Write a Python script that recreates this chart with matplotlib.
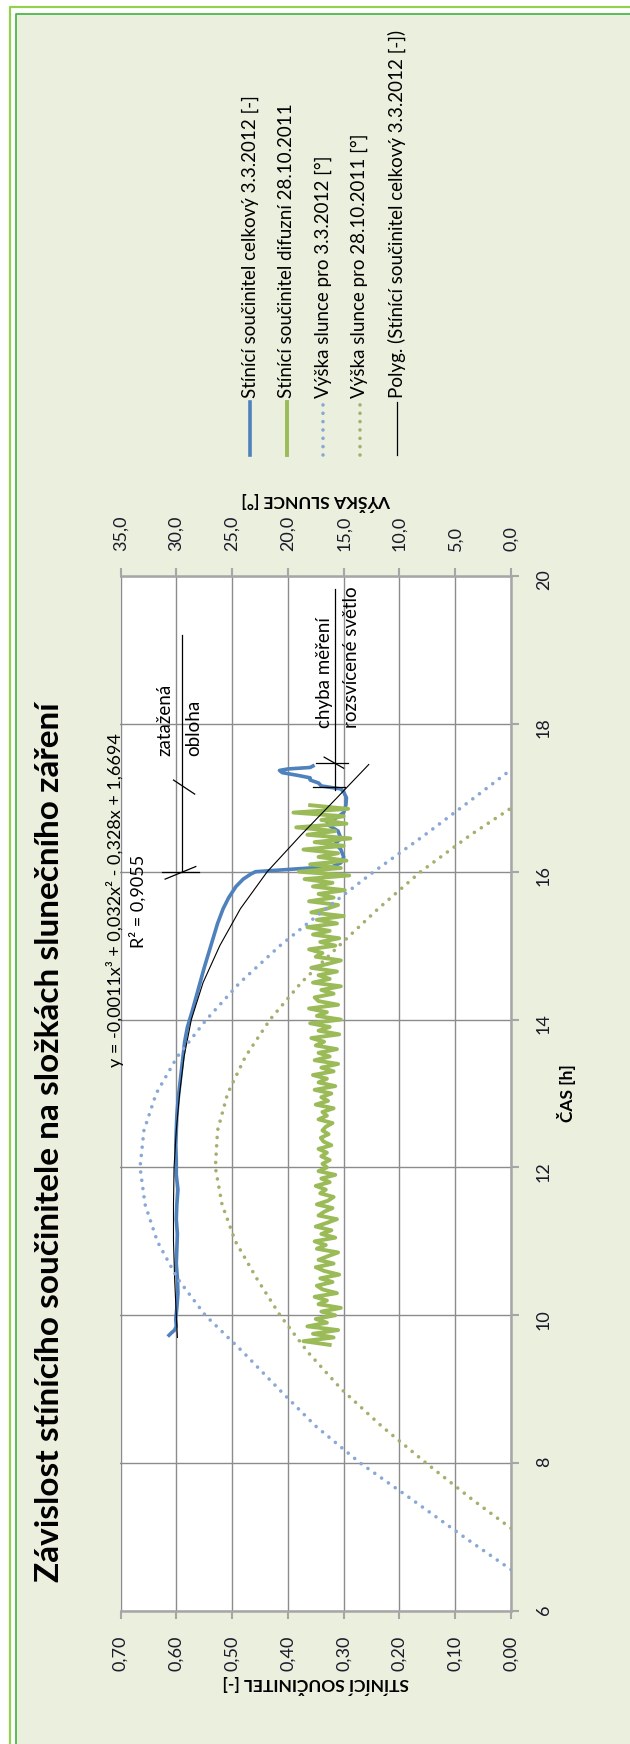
import numpy as np
import matplotlib.pyplot as plt
from matplotlib.lines import Line2D
from matplotlib.patches import Rectangle

plt.rcParams['font.family'] = ['Lato', 'DejaVu Sans']

# ---------------- data ----------------
# stínící součinitel celkový 3.3.2012 [-]
cas_celkovy = [9.73, 9.76, 9.80, 9.85, 9.95, 10.1, 10.3, 10.5, 10.7, 10.9, 11.1, 11.3,
               11.5, 11.7, 11.9, 12.1, 12.3, 12.5, 12.7, 12.9, 13.1, 13.3, 13.5, 13.7,
               13.9, 14.1, 14.4, 14.7, 14.9, 15.1, 15.3, 15.5, 15.65, 15.8, 15.9, 15.97,
               16.0, 16.04, 16.07, 16.12, 16.2, 16.3, 16.38, 16.45, 16.55, 16.62, 16.68,
               16.72, 16.8, 16.9, 17.0, 17.08, 17.12, 17.16, 17.2, 17.24, 17.27, 17.3,
               17.34, 17.37, 17.39, 17.41, 17.43]
stineni_celkovy = [0.613, 0.609, 0.603, 0.600, 0.601, 0.599, 0.597, 0.598, 0.600, 0.599, 0.598, 0.600,
                   0.599, 0.597, 0.600, 0.600, 0.601, 0.600, 0.599, 0.597, 0.594, 0.591, 0.588, 0.585,
                   0.580, 0.572, 0.561, 0.550, 0.542, 0.534, 0.526, 0.516, 0.506, 0.493, 0.480, 0.466,
                   0.458, 0.381, 0.320, 0.305, 0.300, 0.305, 0.315, 0.305, 0.310, 0.325, 0.330,
                   0.315, 0.300, 0.296, 0.295, 0.300, 0.305, 0.340, 0.345, 0.360, 0.360, 0.380,
                   0.410, 0.415, 0.400, 0.360, 0.355]

# stínící součinitel difuzní 28.10.2011 [-] (měřeno po 3 minutách, 9:36 - 16:54)
stineni_difuzni = [
    0.325, 0.372, 0.318, 0.355, 0.310, 0.365, 0.330, 0.350, 0.315, 0.340,
    0.305, 0.345, 0.330, 0.352, 0.312, 0.338, 0.348, 0.320, 0.342, 0.308,
    0.335, 0.350, 0.318, 0.345, 0.328, 0.310, 0.348, 0.332, 0.352, 0.315,
    0.340, 0.322, 0.350, 0.330, 0.312, 0.345, 0.335, 0.320, 0.348, 0.328,
    0.318, 0.342, 0.332, 0.350, 0.325, 0.340, 0.315, 0.345, 0.330, 0.338,
    0.325, 0.340, 0.330, 0.345, 0.322, 0.336, 0.341, 0.327, 0.338, 0.332,
    0.320, 0.345, 0.330, 0.338, 0.318, 0.350, 0.328, 0.340, 0.322, 0.352,
    0.315, 0.345, 0.330, 0.355, 0.318, 0.340, 0.310, 0.352, 0.325, 0.345,
    0.312, 0.350, 0.335, 0.358, 0.308, 0.345, 0.325, 0.360, 0.305, 0.348,
    0.330, 0.362, 0.310, 0.345, 0.352, 0.318, 0.340, 0.305, 0.355, 0.325,
    0.345, 0.312, 0.358, 0.330, 0.305, 0.350, 0.338, 0.362, 0.315, 0.342,
    0.308, 0.355, 0.325, 0.365, 0.312, 0.348, 0.300, 0.358, 0.330, 0.310,
    0.362, 0.318, 0.345, 0.298, 0.355, 0.320, 0.370, 0.290, 0.380, 0.305,
    0.360, 0.295, 0.345, 0.310, 0.372, 0.300, 0.352, 0.288, 0.365, 0.315,
    0.385, 0.295, 0.340, 0.300, 0.390, 0.292, 0.360]
cas_difuzni = np.linspace(9.60, 16.90, len(stineni_difuzni))

# výška slunce [°]
cas_slunce_3_3 = [6.56, 7.0, 7.5, 8.0, 8.5, 9.0, 9.5, 10.0, 10.5, 11.0, 11.5, 12.0,
                  12.5, 13.0, 13.5, 14.0, 14.5, 15.0, 15.5, 16.0, 16.5, 17.0, 17.38]
vyska_3_3 = [0.0, 4.2, 8.8, 13.5, 17.5, 20.8, 24.0, 27.4, 29.9, 31.7, 32.8, 33.25,
             32.9, 31.8, 29.9, 27.3, 24.3, 20.7, 16.6, 12.3, 7.7, 3.3, 0.0]
cas_slunce_28_10 = [7.12, 7.5, 8.0, 8.5, 9.0, 9.5, 10.0, 10.5, 11.0, 11.5, 12.0,
                    12.5, 13.0, 13.5, 14.0, 14.5, 15.0, 15.5, 16.0, 16.5, 16.86]
vyska_28_10 = [0.0, 3.4, 7.6, 11.6, 15.2, 18.2, 20.7, 22.8, 24.7, 25.9, 26.5,
               26.3, 25.4, 23.8, 21.6, 18.8, 15.4, 11.9, 8.1, 3.6, 0.0]

# polynomický trend
cas_trend = [9.7, 10.0, 10.5, 11.0, 11.5, 12.0, 12.5, 13.0, 13.5, 14.0, 14.5,
             15.0, 15.5, 16.0, 16.5, 17.0, 17.45]
trend = [0.598, 0.600, 0.603, 0.605, 0.605, 0.604, 0.600, 0.594, 0.586, 0.573, 0.552,
         0.522, 0.485, 0.437, 0.376, 0.312, 0.255]

coef_ticks = [0.0, 0.1, 0.2, 0.3, 0.4, 0.5, 0.6, 0.7]
coef_labels = ['0,00', '0,10', '0,20', '0,30', '0,40', '0,50', '0,60', '0,70']
sun_ticks = [0, 5, 10, 15, 20, 25, 30, 35]
sun_labels = ['0,0', '5,0', '10,0', '15,0', '20,0', '25,0', '30,0', '35,0']
time_ticks = [6, 8, 10, 12, 14, 16, 18, 20]
time_labels = ['6', '8', '10', '12', '14', '16', '18', '20']

legend_labels = ['Stínící součinitel celkový 3.3.2012 [-]',
                 'Stínící součinitel difuzní 28.10.2011',
                 'Výška slunce pro 3.3.2012 [°]',
                 'Výška slunce pro 28.10.2011 [°]',
                 'Polyg. (Stínící součinitel celkový 3.3.2012 [-])']

# ---------------- styles ----------------
BLUE = '#4F81BD'
GREEN = '#9BBB59'
BLUE_DOT = '#8AA8D6'
GREEN_DOT = '#A4B06E'
GRID = '#8C8C8C'
AXIS = '#A6A6A6'
BG = '#EBEFDE'
DOTS = (0, (0.01, 2.3))

W, H = 630, 1744


def fx(x):
    return x / W


def fy(y):
    return 1 - y / H


fig = plt.figure(figsize=(W / 100, H / 100), dpi=100)
fig.patch.set_facecolor('white')

# pozadí grafu a zelený okraj (graf je vpravo a dole oříznutý)
fig.add_artist(Rectangle((fx(16), 0), 1 - fx(16), fy(14), transform=fig.transFigure,
                         facecolor=BG, edgecolor='none', zorder=0))
fig.add_artist(Line2D([fx(10), fx(10), 1], [0, fy(7), fy(7)], transform=fig.transFigure,
                      color='#92D050', lw=1.6))
fig.add_artist(Line2D([fx(16), fx(16), 1], [0, fy(14), fy(14)], transform=fig.transFigure,
                      color='#4CB84C', lw=1.3))

# oblast grafu: vodorovně součinitel (0,70 vlevo), svisle čas
left, right, top, bottom = 120.5, 511, 576, 1611
ax = fig.add_axes([fx(left), fy(bottom), (right - left) / W, (bottom - top) / H])
ax.set_facecolor('white')
ax.set_xlim(0.70, 0.0)
ax.set_ylim(6, 20)

ax.plot(stineni_celkovy, cas_celkovy, color=BLUE, lw=2.6, solid_joinstyle='round', zorder=3)
ax.plot(stineni_difuzni, cas_difuzni, color=GREEN, lw=2.8, solid_joinstyle='round', zorder=4)
ax.plot(trend, cas_trend, color='black', lw=0.8, zorder=5)

ax.set_xticks(coef_ticks)
ax.set_xticklabels(coef_labels)
ax.set_yticks(time_ticks)
ax.set_yticklabels(time_labels)
ax.yaxis.tick_right()
ax.grid(True, color=GRID, lw=1.0)
ax.set_axisbelow(True)
ax.tick_params(axis='x', direction='out', length=6, width=1.5, color=AXIS,
               labelrotation=90, labelsize=13, pad=12, labelcolor='#1a1a2a')
ax.tick_params(axis='y', direction='out', length=6, width=1.5, color=AXIS,
               labelrotation=90, labelsize=13, pad=12, labelcolor='#1a1a2a')
for s in ['top', 'left']:
    ax.spines[s].set_visible(False)
for s in ['bottom', 'right']:
    ax.spines[s].set_color(AXIS)
    ax.spines[s].set_linewidth(1.8)

# vedlejší osa: výška slunce
ax2 = ax.twiny()
ax2.set_xlim(35, 0)
ax2.plot(vyska_3_3, cas_slunce_3_3, color=BLUE_DOT, lw=2.6, ls=DOTS, dash_capstyle='round')
ax2.plot(vyska_28_10, cas_slunce_28_10, color=GREEN_DOT, lw=2.6, ls=DOTS, dash_capstyle='round')
ax2.set_xticks(sun_ticks)
ax2.set_xticklabels(sun_labels)
ax2.tick_params(axis='x', direction='out', length=6, width=1.5, color=AXIS,
                labelrotation=90, labelsize=13, pad=12, labelcolor='#1a1a2a')
for s in ['bottom', 'left', 'right']:
    ax2.spines[s].set_visible(False)
ax2.spines['top'].set_color(AXIS)
ax2.spines['top'].set_linewidth(1.8)

# popisky v grafu
ann = dict(color='black', lw=0.9, zorder=6, clip_on=False)
ax.plot([0.59, 0.59], [16.0, 19.2], **ann)
ax.plot([0.625, 0.560], [15.99, 15.99], **ann)
ax.plot([0.620, 0.565], [15.90, 16.07], **ann)
ax.plot([0.605, 0.567], [17.24, 17.05], **ann)
ax.text(0.620, 17.57, 'zatažená', rotation=90, ha='center', va='bottom', fontsize=13.5)
ax.text(0.568, 17.57, 'obloha', rotation=90, ha='center', va='bottom', fontsize=13.5)

ax.plot([0.316, 0.316], [17.1, 19.83], **ann)
ax.plot([0.349, 0.292], [17.47, 17.47], **ann)
ax.plot([0.355, 0.298], [17.14, 17.14], **ann)
ax.plot([0.335, 0.300], [17.55, 17.40], **ann)
ax.text(0.334, 17.95, 'chyba měření', rotation=90, ha='center', va='bottom', fontsize=13.5)
ax.text(0.286, 17.95, 'rozsvícené světlo', rotation=90, ha='center', va='bottom', fontsize=13.5)

ax.text(0.710, 15.61, 'y = -0,0011x³ + 0,032x² - 0,328x + 1,6694', rotation=90,
        ha='center', va='center', fontsize=13, clip_on=False)
ax.text(0.669, 15.6, 'R² = 0,9055', rotation=90, ha='center', va='center', fontsize=13)

# titulky os a graf
fig.text(fx(50), fy(1582), 'Závislost stínícího součinitele na složkách slunečního záření',
         rotation=90, ha='center', va='bottom', fontsize=24, fontweight='bold')
fig.text(fx(316), fy(1684), 'STÍNÍCÍ SOUČINITEL [-]', rotation=180, ha='center', va='center',
         fontsize=12.5, fontweight='bold')
fig.text(fx(316), fy(502), 'VÝŠKA SLUNCE [°]', rotation=180, ha='center', va='center',
         fontsize=12.5, fontweight='bold')
fig.text(fx(566), fy(1093), 'ČAS [h]', rotation=90, ha='center', va='center',
         fontsize=12.5, fontweight='bold')

# legenda (ručně, svisle)
leg_x = [250, 286.7, 323, 359.5, 396.5]
leg_style = [dict(color=BLUE, lw=2.6),
             dict(color=GREEN, lw=2.8),
             dict(color=BLUE_DOT, lw=2.6, ls=DOTS, dash_capstyle='round'),
             dict(color=GREEN_DOT, lw=2.6, ls=DOTS, dash_capstyle='round'),
             dict(color='black', lw=0.9)]
for x, lab, st in zip(leg_x, legend_labels, leg_style):
    fig.add_artist(Line2D([fx(x), fx(x)], [fy(455), fy(402)], transform=fig.transFigure, **st))
    fig.text(fx(x), fy(398), lab, rotation=90, ha='center', va='bottom', fontsize=13.5)

fig.savefig('out.png', dpi=100, facecolor=fig.get_facecolor())
